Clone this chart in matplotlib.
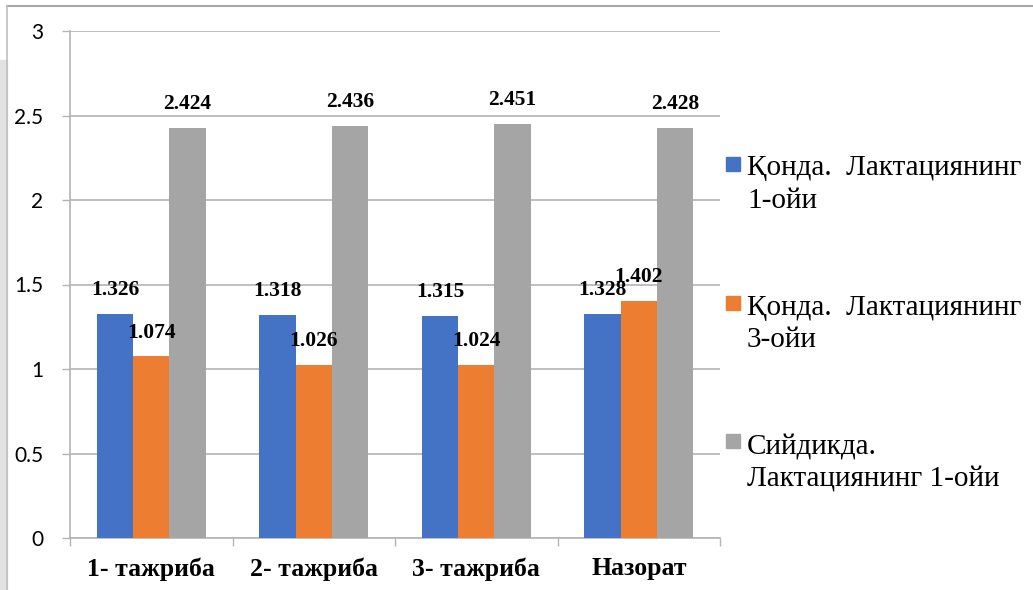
import matplotlib.pyplot as plt
from matplotlib.patches import Rectangle
from matplotlib.lines import Line2D
import numpy as np

categories = ["1- тажриба", "2- тажриба", "3- тажриба", "Назорат"]
milk_month1 = [1.326, 1.318, 1.315, 1.328]
milk_month3 = [1.074, 1.026, 1.024, 1.402]
urine_month1 = [2.424, 2.436, 2.451, 2.428]
series_names = [
    ["Қонда.  Лактациянинг", "1-ойи"],
    ["Қонда.  Лактациянинг", "3-ойи"],
    ["Сийдикда.", "Лактациянинг 1-ойи"],
]
colors = ["#4472C4", "#ED7D31", "#A5A5A5"]

W, H = 1033, 590
fig = plt.figure(figsize=(W / 100, H / 100), dpi=100)


def px(x, y):
    return x / W, (H - y) / H


ax = fig.add_axes([70 / W, 52 / H, 650 / W, 507 / H])

x = np.arange(len(categories))
bw = 0.2226
serif = ["Liberation Serif", "DejaVu Serif"]
for i, vals in enumerate([milk_month1, milk_month3, urine_month1]):
    bars = ax.bar(x + (i - 1) * bw, vals, bw, color=colors[i], zorder=3)
    for b, v in zip(bars, vals):
        ax.annotate(f"{v:.3f}", (b.get_x() + b.get_width() / 2, v),
                    xytext=(0, 10), textcoords="offset points",
                    ha="center", va="bottom", fontsize=15.5,
                    fontweight="bold", family=serif, zorder=4)

ax.set_xlim(-0.5, 3.5)
ax.set_ylim(0, 3)
ax.set_yticks(np.arange(0, 3.01, 0.5))
ax.set_yticklabels(["0", "0.5", "1", "1.5", "2", "2.5", "3"],
                   family="Lato", fontsize=15)
ax.yaxis.grid(True, color="#b4b4b4", linewidth=1.2, zorder=0)
ax.tick_params(axis="y", length=6, width=1, color="#b4b4b4", pad=13)

ax.set_xticks(x)
ax.set_xticklabels(categories, family=serif, fontweight="bold", fontsize=18.5)
ax.set_xticks(np.arange(-0.5, 4, 1), minor=True)
ax.tick_params(axis="x", which="major", length=0, pad=14)
ax.tick_params(axis="x", which="minor", length=6, width=1, color="#b4b4b4")

for s in ["top", "right"]:
    ax.spines[s].set_visible(False)
for s in ["left", "bottom"]:
    ax.spines[s].set_color("#b4b4b4")
    ax.spines[s].set_linewidth(1.2)

# legend drawn by hand: square swatch plus two text lines per entry
legend_rows = [(157, 175, 208), (296, 315, 347), (434, 455, 487)]
for (sq_top, y1, y2), name, c in zip(legend_rows, series_names, colors):
    sx, sy = px(726, sq_top + 14)
    fig.add_artist(Rectangle((sx, sy), 14 / W, 14 / H, color=c,
                             transform=fig.transFigure))
    fig.text(*px(747, y1), name[0], family=serif, fontsize=21, va="baseline")
    fig.text(*px(747, y2), name[1], family=serif, fontsize=21, va="baseline")

# outer frame and the grey strip on the left edge
fig.add_artist(Rectangle(px(0, H), 7 / W, (H - 60) / H, color="#e2e2e2",
                         transform=fig.transFigure, zorder=0))
fig.add_artist(Line2D([7 / W, 1], [1 - 6 / H, 1 - 6 / H], color="#a8a8a8",
                      linewidth=1.5, transform=fig.transFigure))
fig.add_artist(Line2D([7 / W, 7 / W], [0, 1 - 6 / H], color="#c0c0c0",
                      linewidth=1.2, transform=fig.transFigure))

fig.savefig("out.png", dpi=100)
